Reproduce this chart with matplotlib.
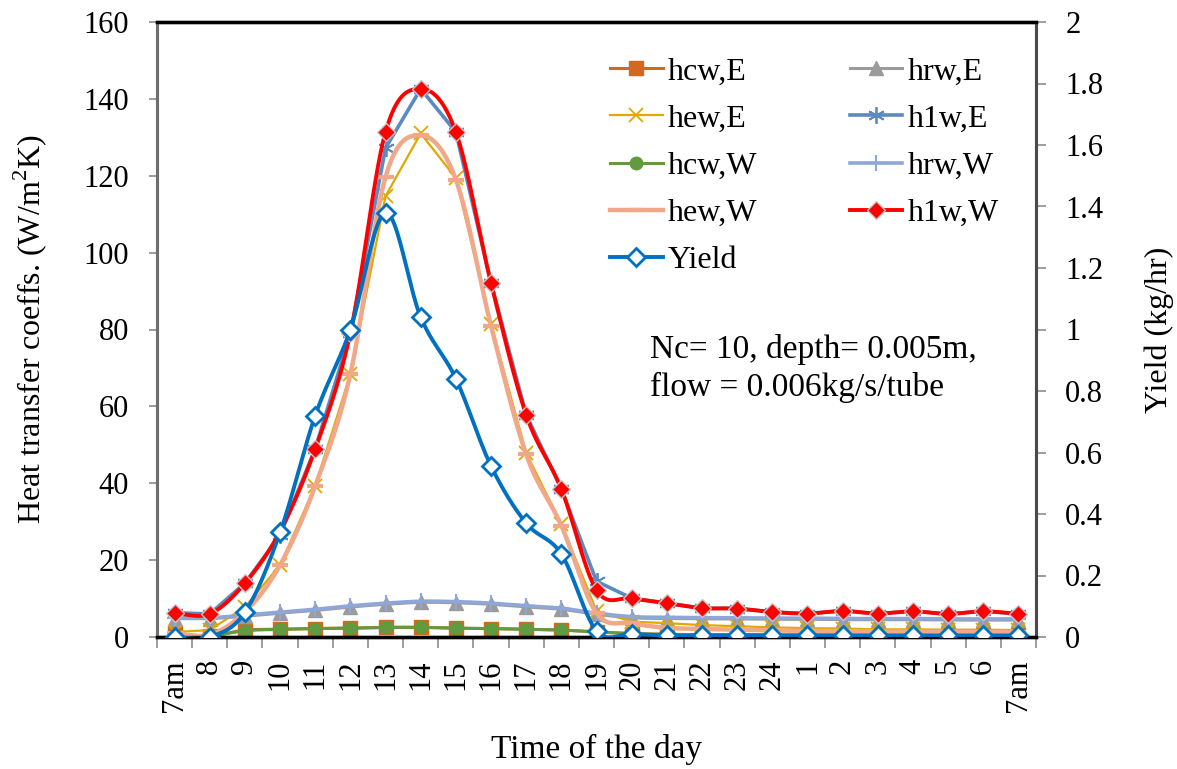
import numpy as np
import matplotlib
matplotlib.use("Agg")
import matplotlib.pyplot as plt
from matplotlib.lines import Line2D
from matplotlib.ticker import FuncFormatter, FixedLocator

plt.rcParams['font.family'] = ['Liberation Serif', 'DejaVu Serif']

hours = ['7am', '8', '9', '10', '11', '12', '13', '14', '15', '16', '17', '18', '19',
         '20', '21', '22', '23', '24', '1', '2', '3', '4', '5', '6', '7am']

hcw_E = [1.0, 0.3, 1.8, 2.0, 2.2, 2.3, 2.5, 2.5, 2.3, 2.2, 2.0, 1.8, 1.3,
         0.9, 0.7, 0.6, 0.6, 0.5, 0.5, 0.5, 0.5, 0.5, 0.5, 0.5, 0.5]
hrw_E = [4.8, 4.8, 5.4, 6.2, 6.9, 7.8, 8.5, 9.0, 8.9, 8.5, 7.8, 7.2, 5.9,
         5.0, 4.8, 4.7, 4.7, 4.6, 4.6, 4.5, 4.5, 4.5, 4.4, 4.4, 4.4]
hew_E = [1.3, 1.8, 7.8, 18.7, 39.3, 68.4, 114.7, 131.0, 119.4, 81.4, 47.9, 29.4, 6.8,
         4.0, 3.6, 3.1, 2.8, 2.5, 2.3, 2.2, 2.0, 2.0, 1.9, 1.9, 1.8]
h1w_E = [6.3, 6.0, 14.0, 26.5, 49.0, 79.0, 127.2, 142.6, 131.4, 92.1, 57.8, 38.5, 14.5,
         10.1, 8.8, 7.5, 7.4, 6.5, 6.1, 6.8, 6.1, 6.7, 6.0, 6.7, 6.0]
hcw_W = [0.3, 0.3, 1.6, 2.0, 2.2, 2.3, 2.5, 2.5, 2.3, 2.2, 2.0, 1.8, 1.3,
         0.9, 0.7, 0.6, 0.6, 0.5, 0.5, 0.5, 0.5, 0.5, 0.5, 0.5, 0.5]
hrw_W = [5.0, 5.0, 5.7, 6.5, 7.2, 8.1, 8.8, 9.3, 9.2, 8.8, 8.1, 7.5, 6.2,
         5.3, 5.1, 5.0, 5.0, 4.9, 4.9, 4.8, 4.8, 4.8, 4.7, 4.7, 4.7]
hew_W = [1.0, 0.6, 6.5, 18.7, 39.3, 68.4, 119.7, 130.5, 119.0, 81.0, 47.5, 29.0, 6.2,
         3.6, 2.4, 2.1, 1.9, 1.7, 1.6, 1.5, 1.4, 1.4, 1.3, 1.3, 1.3]
h1w_W = [6.3, 6.0, 14.0, 27.5, 48.9, 79.0, 131.4, 142.6, 131.4, 92.1, 57.8, 38.5, 12.2,
         10.1, 8.8, 7.5, 7.4, 6.5, 6.1, 6.8, 6.1, 6.7, 6.0, 6.7, 6.0]
yield_kg = [0.0, 0.0, 0.08, 0.34, 0.72, 1.0, 1.38, 1.04, 0.84, 0.556, 0.37, 0.27, 0.02,
            0.01, 0.005, 0.005, 0.005, 0.005, 0.005, 0.005, 0.005, 0.005, 0.005, 0.005, 0.005]


def smooth(xv, yv, n=24):
    """Uniform Catmull-Rom spline through points (like Excel smoothed lines)."""
    xv = np.asarray(xv, float)
    yv = np.asarray(yv, float)
    px = np.concatenate([[xv[0]], xv, [xv[-1]]])
    py = np.concatenate([[yv[0]], yv, [yv[-1]]])
    t = np.linspace(0, 1, n, endpoint=False)
    xs, ys = [], []
    for i in range(1, len(px) - 2):
        for arr, out in ((px, xs), (py, ys)):
            p0, p1, p2, p3 = arr[i - 1], arr[i], arr[i + 1], arr[i + 2]
            m1 = (p2 - p0) / 2.0
            m2 = (p3 - p1) / 2.0
            h00 = 2 * t**3 - 3 * t**2 + 1
            h10 = t**3 - 2 * t**2 + t
            h01 = -2 * t**3 + 3 * t**2
            h11 = t**3 - t**2
            out.extend(h00 * p1 + h10 * m1 + h01 * p2 + h11 * m2)
    xs.append(xv[-1])
    ys.append(yv[-1])
    return np.array(xs), np.array(ys)


fig = plt.figure(figsize=(11.77, 7.69), dpi=100)
ax = fig.add_axes([157 / 1177, 1 - 637 / 769, (1036 - 157) / 1177, (637 - 22) / 769])
ax2 = ax.twinx()
x = np.arange(len(hours))

series = [
    # label, data, color, lw, smooth, marker kwargs
    ('hcw,E', hcw_E, '#D2691E', 2.2, True, dict(marker='s', ms=10, mfc='#D2691E', mec='#D2691E')),
    ('hrw,E', hrw_E, '#9B9B9B', 2.2, True, dict(marker='^', ms=10, mfc='#9B9B9B', mec='#9B9B9B')),
    ('hew,E', hew_E, '#E0A800', 1.6, False, dict(marker='x', ms=10, mec='#E0A800', mew=1.3)),
    ('h1w,E', h1w_E, '#5A8AC0', 2.6, False, dict(marker=(6, 2, 0), ms=12, mec='#5A8AC0', mew=1.3)),
    ('hcw,W', hcw_W, '#619A3F', 2.2, True, dict(marker='o', ms=9, mfc='#619A3F', mec='#619A3F')),
    ('hrw,W', hrw_W, '#8EA6D8', 2.6, True, dict(marker='+', ms=12, mec='#8EA6D8', mew=1.5)),
    ('hew,W', hew_W, '#F0A888', 3.2, True, dict(marker='_', ms=12, mec='#F0A888', mew=3)),
    ('h1w,W', h1w_W, '#FF0000', 2.8, True, dict(marker='D', ms=9, mfc='#FF0000', mec='#C8C8C8', mew=1)),
]

handles = []
for i, (lab, data, col, lw, sm, mk) in enumerate(series):
    if sm:
        sx, sy = smooth(x, data)
    else:
        sx, sy = x, np.asarray(data, float)
    ax.plot(sx, sy, color=col, lw=lw, zorder=2 + i * 0.1, solid_capstyle='round')
    ax.plot(x, data, ls='none', zorder=2.05 + i * 0.1, **mk)
    handles.append(Line2D([], [], color=col, lw=lw, **mk))

sx, sy = smooth(x, yield_kg)
ax2.plot(sx, sy, color='#0070C0', lw=2.8, zorder=3)
ymk = dict(marker='D', ms=9, mfc='white', mec='#0070C0', mew=2)
ax2.plot(x, yield_kg, ls='none', zorder=3.1, **ymk)
handles.append(Line2D([], [], color='#0070C0', lw=2.8, **ymk))

ax.set_xlim(-0.5, len(hours) - 0.5)
ax.set_ylim(0, 160)
ax2.set_ylim(0, 2)
ax.set_yticks(np.arange(0, 161, 20))
ax2.set_yticks(np.arange(0, 2.01, 0.2))
ax2.yaxis.set_major_formatter(FuncFormatter(lambda v, p: '%g' % round(v, 1)))

ax.set_xticks(x)
ax.set_xticklabels(hours, rotation=90, fontsize=22)
ax.xaxis.set_minor_locator(FixedLocator(np.arange(-0.5, len(hours), 1.0)))
ax.tick_params(axis='x', which='major', length=0, pad=16)
ax.tick_params(axis='x', which='minor', length=8, width=1.2, color='#8C8C8C')
ax.tick_params(axis='y', labelsize=22, length=6, width=1.2, color='#8C8C8C', pad=14)
ax2.tick_params(axis='y', labelsize=22, length=7, width=1.2, color='#8C8C8C', pad=14)

for a in (ax, ax2):
    a.spines['top'].set_linewidth(2.4)
    a.spines['top'].set_color('black')
    a.spines['bottom'].set_linewidth(2.4)
    a.spines['bottom'].set_color('black')
    a.spines['left'].set_linewidth(2.2)
    a.spines['left'].set_color('#6E6E6E')
    a.spines['right'].set_linewidth(2.2)
    a.spines['right'].set_color('#4A4A4A')

ax.set_ylabel('Heat transfer coeffs. (W/m$^{\\mathregular{2}}$K)', fontsize=23, labelpad=25)
ax2.set_ylabel('Yield (kg/hr)', fontsize=23, labelpad=30)
ax.set_xlabel('Time of the day', fontsize=24, labelpad=16)

ax.text(0.561, 0.467, 'Nc= 10, depth= 0.005m,', transform=ax.transAxes,
        fontsize=24, ha='left', va='center')
ax.text(0.561, 0.405, 'flow = 0.006kg/s/tube', transform=ax.transAxes,
        fontsize=24, ha='left', va='center')

order = [0, 2, 4, 6, 8, 1, 3, 5, 7]
labels = [s[0] for s in series] + ['Yield']
leg = ax2.legend([handles[k] for k in order], [labels[k] for k in order],
                 ncol=2, loc='upper left', bbox_to_anchor=(610 / 1177, 1 - 57 / 769),
                 bbox_transform=fig.transFigure, frameon=False, fontsize=23,
                 handlelength=1.65, handletextpad=0.15, columnspacing=2.9,
                 labelspacing=0.56, borderpad=0, borderaxespad=0)

fig.savefig('out.png', dpi=100)
